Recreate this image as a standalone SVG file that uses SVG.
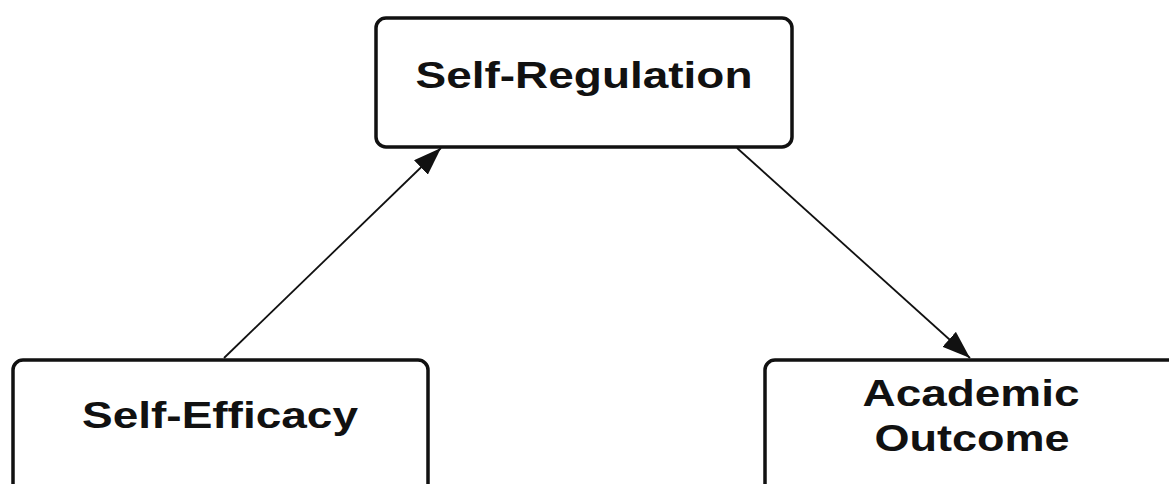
<svg xmlns="http://www.w3.org/2000/svg" width="1169" height="484" viewBox="0 0 1169 484">
<style>
.box{fill:#fff;stroke:#111;stroke-width:3.5}
.lbl{font-family:"Liberation Sans",Arial,sans-serif;font-weight:bold;font-size:36px;fill:#111;text-anchor:middle}
.edge{stroke:#111;stroke-width:1.8;fill:none}
</style>
<defs>
<marker id="ah" viewBox="0 0 28 20" refX="28" refY="10" markerWidth="28" markerHeight="20" markerUnits="userSpaceOnUse" orient="auto">
<path d="M0,0 L28,10 L0,20 Z" fill="#111"/>
</marker>
</defs>
<rect width="1169" height="484" fill="#fff"/>
<g id="connectors">
<line class="edge" x1="224" y1="358" x2="441" y2="148" marker-end="url(#ah)"/>
<line class="edge" x1="737" y1="148" x2="970" y2="358" marker-end="url(#ah)"/>
</g>
<g id="node-self-regulation">
<rect class="box" x="376" y="18" width="416" height="129" rx="10"/>
<text class="lbl" x="584" y="88" textLength="337" lengthAdjust="spacingAndGlyphs">Self-Regulation</text>
</g>
<g id="node-self-efficacy">
<rect class="box" x="13" y="360" width="415" height="140" rx="10"/>
<text class="lbl" x="220" y="428" textLength="276" lengthAdjust="spacingAndGlyphs">Self-Efficacy</text>
</g>
<g id="node-academic-outcome">
<rect class="box" x="765" y="360" width="420" height="140" rx="10"/>
<text class="lbl" x="971" y="406" textLength="217" lengthAdjust="spacingAndGlyphs">Academic</text>
<text class="lbl" x="972" y="451" textLength="195" lengthAdjust="spacingAndGlyphs">Outcome</text>
</g>
</svg>
